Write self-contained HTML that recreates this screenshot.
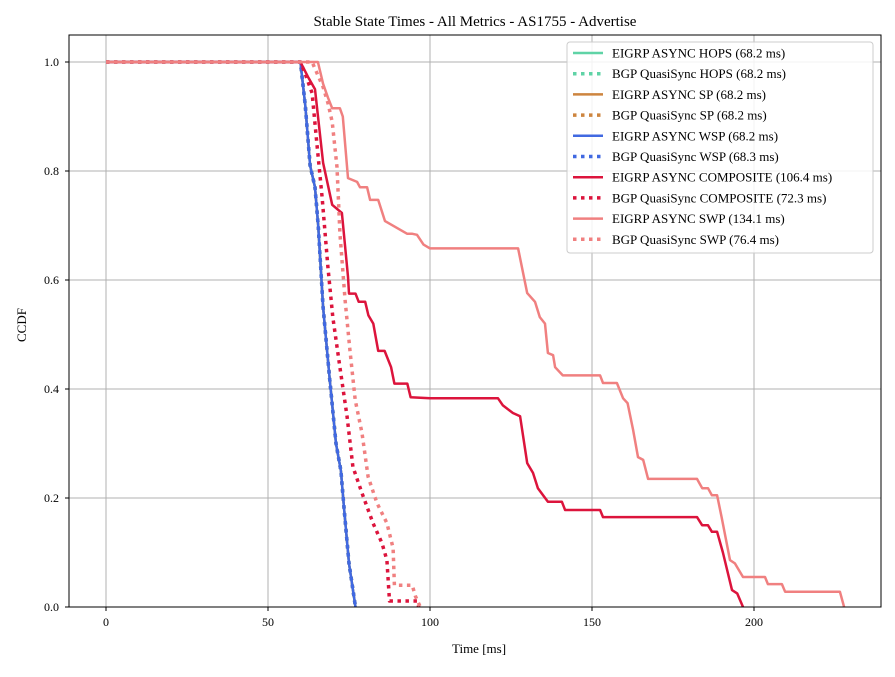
<!DOCTYPE html>
<html><head><meta charset="utf-8"><style>
body{margin:0;background:#fff;width:895px;height:672px;overflow:hidden}
svg{font-family:"Liberation Serif",serif}
</style></head><body>
<svg id="chart" width="895" height="672">
<rect x="0" y="0" width="895" height="672" fill="#fff"/>
<text x="475" y="26" text-anchor="middle" font-size="15">Stable State Times - All Metrics - AS1755 - Advertise</text>
<g id="grid"></g>
<g id="series" clip-path="url(#clip)"></g>
<defs><clipPath id="clip"><rect x="69" y="35" width="812" height="572"/></clipPath></defs>
<rect x="69" y="35" width="812" height="572" fill="none" stroke="#000" stroke-width="1"/>
<g id="ticks"></g>
<text x="479" y="653" text-anchor="middle" font-size="13">Time [ms]</text>
<text transform="translate(26,325) rotate(-90)" text-anchor="middle" font-size="13">CCDF</text>
<g id="legend"></g>
</svg>
<script>
const xTicks=[0,50,100,150,200];
const yTicks=[0.0,0.2,0.4,0.6,0.8,1.0];
const seriesNames=["EIGRP ASYNC HOPS (68.2 ms)","BGP QuasiSync HOPS (68.2 ms)","EIGRP ASYNC SP (68.2 ms)","BGP QuasiSync SP (68.2 ms)","EIGRP ASYNC WSP (68.2 ms)","BGP QuasiSync WSP (68.3 ms)","EIGRP ASYNC COMPOSITE (106.4 ms)","BGP QuasiSync COMPOSITE (72.3 ms)","EIGRP ASYNC SWP (134.1 ms)","BGP QuasiSync SWP (76.4 ms)"];
const seriesColors=["#5fd3a6","#5fd3a6","#cd853f","#cd853f","#4169e1","#4169e1","#dc143c","#dc143c","#f08080","#f08080"];
const seriesDotted=[false,true,false,true,false,true,false,true,false,true];
const fastX=[0,60,61.5,63,64.5,65.5,67,69,71,72.5,73.5,75,77];
const fastY=[1,1,0.92,0.81,0.77,0.70,0.55,0.42,0.30,0.25,0.18,0.08,0];
const compX=[0,60,62.3,64.5,67,69.8,72.8,74.7,75,77,78,80,81,82.5,84,86,88,89,92,93,94,100,121,122.5,125.6,127.8,130,131.8,133.3,136.4,140.7,141.7,152.5,153.4,182.4,184,185.8,187,188.6,190.4,193.2,194.8,196.6];
const compY=[1,1,0.973,0.95,0.815,0.738,0.723,0.606,0.575,0.575,0.56,0.56,0.535,0.52,0.47,0.47,0.44,0.41,0.41,0.41,0.385,0.383,0.383,0.37,0.356,0.35,0.264,0.246,0.218,0.193,0.193,0.178,0.178,0.165,0.165,0.15,0.15,0.138,0.138,0.1,0.031,0.025,0];
const compQX=[0,60,61.4,63.6,65.1,66.7,68.5,70,72.2,74.4,76.2,79,82.4,85.2,86.7,87.5,96,96.5];
const compQY=[1,1,0.98,0.943,0.85,0.752,0.624,0.532,0.44,0.349,0.257,0.209,0.154,0.117,0.086,0.011,0.011,0];
const swpX=[0,65.4,67,68.5,69.8,72.2,73.1,74.7,77.5,78.4,80.6,81.5,84,86.1,92.9,94.4,96,98,100,127.2,130,132.4,133.9,135.5,136.4,138,138.6,141,152.5,153.4,157.7,159.6,161,162.7,164.2,165.8,167.3,182.4,184,185.8,187,188.6,190,192.6,194.1,196.6,203.4,204.3,208.6,209.6,226.5,227.8];
const swpY=[1,1,0.96,0.935,0.915,0.915,0.9,0.787,0.78,0.77,0.77,0.747,0.747,0.708,0.685,0.685,0.683,0.665,0.658,0.658,0.576,0.56,0.532,0.52,0.466,0.462,0.44,0.425,0.425,0.411,0.411,0.383,0.374,0.325,0.275,0.27,0.235,0.235,0.218,0.218,0.205,0.205,0.165,0.086,0.08,0.055,0.055,0.042,0.042,0.028,0.028,0];
const swpQX=[0,63.6,67,68.5,69.8,71.3,72.2,73.8,75.3,76.9,79,80.9,83.6,86.7,88.6,89,94.5,95.5,97];
const swpQY=[1,1,0.954,0.925,0.89,0.807,0.686,0.563,0.47,0.38,0.319,0.239,0.191,0.154,0.108,0.04,0.04,0.02,0];
const seriesXs=[fastX,fastX,fastX,fastX,fastX,fastX,compX,compQX,swpX,swpQX];
const seriesYs=[fastY,fastY,fastY,fastY,fastY,fastY,compY,compQY,swpY,swpQY];

const NS="http://www.w3.org/2000/svg";
function xs(v){return 106+v*3.24;}
function ys(v){return 607-v*545;}
function mk(tag,attrs,parent){const e=document.createElementNS(NS,tag);for(const k in attrs)e.setAttribute(k,attrs[k]);parent.appendChild(e);return e;}
const grid=document.getElementById('grid'),ticks=document.getElementById('ticks');
xTicks.forEach(t=>{
  const g=mk('line',{x1:xs(t),x2:xs(t),y1:35,y2:607,stroke:'#b0b0b0','stroke-width':1},grid);
  
  
  mk('line',{x1:xs(t),x2:xs(t),y1:607,y2:611,stroke:'#000'},ticks);
  const l=mk('text',{x:xs(t),y:626,'text-anchor':'middle','font-size':12},ticks);
  l.textContent=String(t);
  
  
});
yTicks.forEach(t=>{
  const g=mk('line',{x1:69,x2:881,y1:ys(t),y2:ys(t),stroke:'#b0b0b0','stroke-width':1},grid);
  
  
  mk('line',{x1:65,x2:69,y1:ys(t),y2:ys(t),stroke:'#000'},ticks);
  const l=mk('text',{x:59,y:ys(t)+4,'text-anchor':'end','font-size':12},ticks);
  l.textContent=t.toFixed(1);
  
  
});
const ser=document.getElementById('series');
seriesNames.forEach((n,i)=>{
  const X=seriesXs[i],Y=seriesYs[i];
  const d=X.map((x,j)=>(j?'L':'M')+xs(x).toFixed(1)+','+ys(Y[j]).toFixed(1)).join('');
  const p=mk('path',{d:d,fill:'none',stroke:seriesColors[i],'stroke-width':seriesDotted[i]?3.5:2.5,'stroke-linejoin':'round'},ser);
  if(seriesDotted[i])p.setAttribute('stroke-dasharray','3.5,4.5');
  
  
});
const leg=document.getElementById('legend');
const box=mk('rect',{x:567,y:42,width:306,height:211,rx:3,fill:'#fff','fill-opacity':0.85,stroke:'#ccc'},leg);


seriesNames.forEach((n,i)=>{
  const y=53+i*20.7;
  const l=mk('line',{x1:573,x2:603,y1:y,y2:y,stroke:seriesColors[i],'stroke-width':seriesDotted[i]?3.5:2.5},leg);
  if(seriesDotted[i])l.setAttribute('stroke-dasharray','3.5,4.5');
  
  
  const t=mk('text',{x:612,y:y+4.5,'font-size':13},leg);
  t.textContent=n;
  
  
});
</script>
</body></html>
